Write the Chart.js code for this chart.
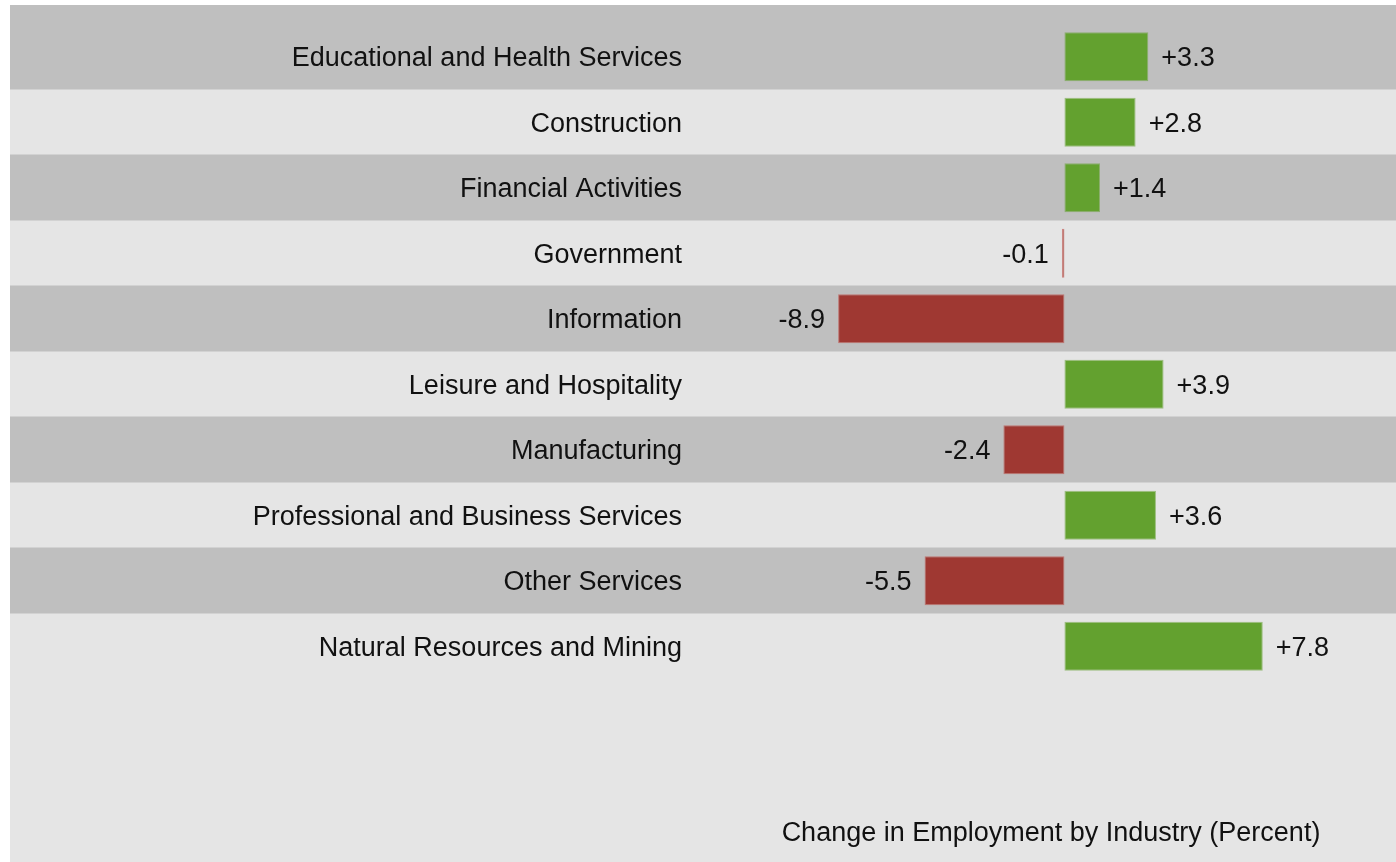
<!DOCTYPE html>
<html>
<head>
<meta charset="utf-8">
<script src="https://cdn.jsdelivr.net/npm/chart.js@4/dist/chart.umd.min.js"></script>
<style>
  html, body { margin: 0; padding: 0; background: #ffffff; }
  canvas { display: block; }
</style>
</head>
<body>
<canvas id="c" width="1396" height="862"></canvas>
<script>
const categories = [
  "Educational and Health Services",
  "Construction",
  "Financial Activities",
  "Government",
  "Information",
  "Leisure and Hospitality",
  "Manufacturing",
  "Professional and Business Services",
  "Other Services",
  "Natural Resources and Mining"
];
const changePercent = [3.3, 2.8, 1.4, -0.1, -8.9, 3.9, -2.4, 3.6, -5.5, 7.8];
const chartTitle = "Change in Employment by Industry (Percent)";

const GREEN = "#63a12f";
const RED = "#9f3832";
const GREEN_EDGE = "rgba(99,161,47,0.55)";
const RED_EDGE = "rgba(190,70,64,0.6)";
const FONT = "'Liberation Sans', Arial, sans-serif";

const bandPlugin = {
  id: "bands",
  beforeDraw(chart) {
    const ctx = chart.ctx;
    const y = chart.scales.y;
    const W = chart.width, H = chart.height;
    ctx.save();
    ctx.fillStyle = "#e5e5e5";
    ctx.fillRect(10, 5, W - 10, H - 5);
    const step = Math.abs(y.getPixelForValue(1) - y.getPixelForValue(0));
    for (let i = 0; i < categories.length; i++) {
      const c = y.getPixelForValue(i);
      let top = c - step / 2, bot = c + step / 2;
      if (i === 0) top = 5;
      if (i % 2 === 0) {
        ctx.fillStyle = "#bfbfbf";
        ctx.fillRect(10, top, W - 10, bot - top);
      }
      if (i < categories.length - 1) {
        ctx.fillStyle = "#d2d2d2";
        ctx.fillRect(10, Math.round(bot) - 1, W - 10, 1);
      }
    }
    ctx.restore();
  },
  afterDatasetsDraw(chart) {
    const ctx = chart.ctx;
    const meta = chart.getDatasetMeta(0);
    ctx.save();
    ctx.font = "27px " + FONT;
    ctx.fillStyle = "#111111";
    ctx.textBaseline = "middle";
    meta.data.forEach((bar, i) => {
      const v = changePercent[i];
      const txt = (v > 0 ? "+" : "") + v.toFixed(1);
      if (v >= 0) {
        ctx.textAlign = "left";
        ctx.fillText(txt, bar.x + 13, bar.y + 2);
      } else {
        ctx.textAlign = "right";
        ctx.fillText(txt, bar.x - 13, bar.y + 2);
      }
    });
    ctx.textAlign = "center";
    ctx.textBaseline = "alphabetic";
    ctx.fillText(chartTitle, 1051, 841);
    ctx.restore();
  }
};

new Chart(document.getElementById("c"), {
  type: "bar",
  data: {
    labels: categories,
    datasets: [{
      data: changePercent,
      backgroundColor: changePercent.map(v => v >= 0 ? GREEN : RED),
      borderColor: changePercent.map(v => v >= 0 ? GREEN_EDGE : RED_EDGE),
      borderWidth: 1,
      borderSkipped: false,
      barPercentage: 0.75,
      categoryPercentage: 1.0
    }]
  },
  options: {
    indexAxis: "y",
    responsive: false,
    devicePixelRatio: 1,
    animation: false,
    layout: { padding: { left: 0, right: 1, top: 24, bottom: 183 } },
    plugins: {
      legend: { display: false },
      tooltip: { enabled: false },
      title: { display: false }
    },
    scales: {
      x: {
        display: false,
        min: -15,
        max: 13
      },
      y: {
        grid: { display: false, drawTicks: false },
        border: { display: false },
        ticks: {
          padding: 1,
          labelOffset: 2,
          color: "#111111",
          font: { family: FONT, size: 27 }
        },
        afterFit(scale) { scale.width = 683; }
      }
    }
  },
  plugins: [bandPlugin]
});
</script>
</body>
</html>
